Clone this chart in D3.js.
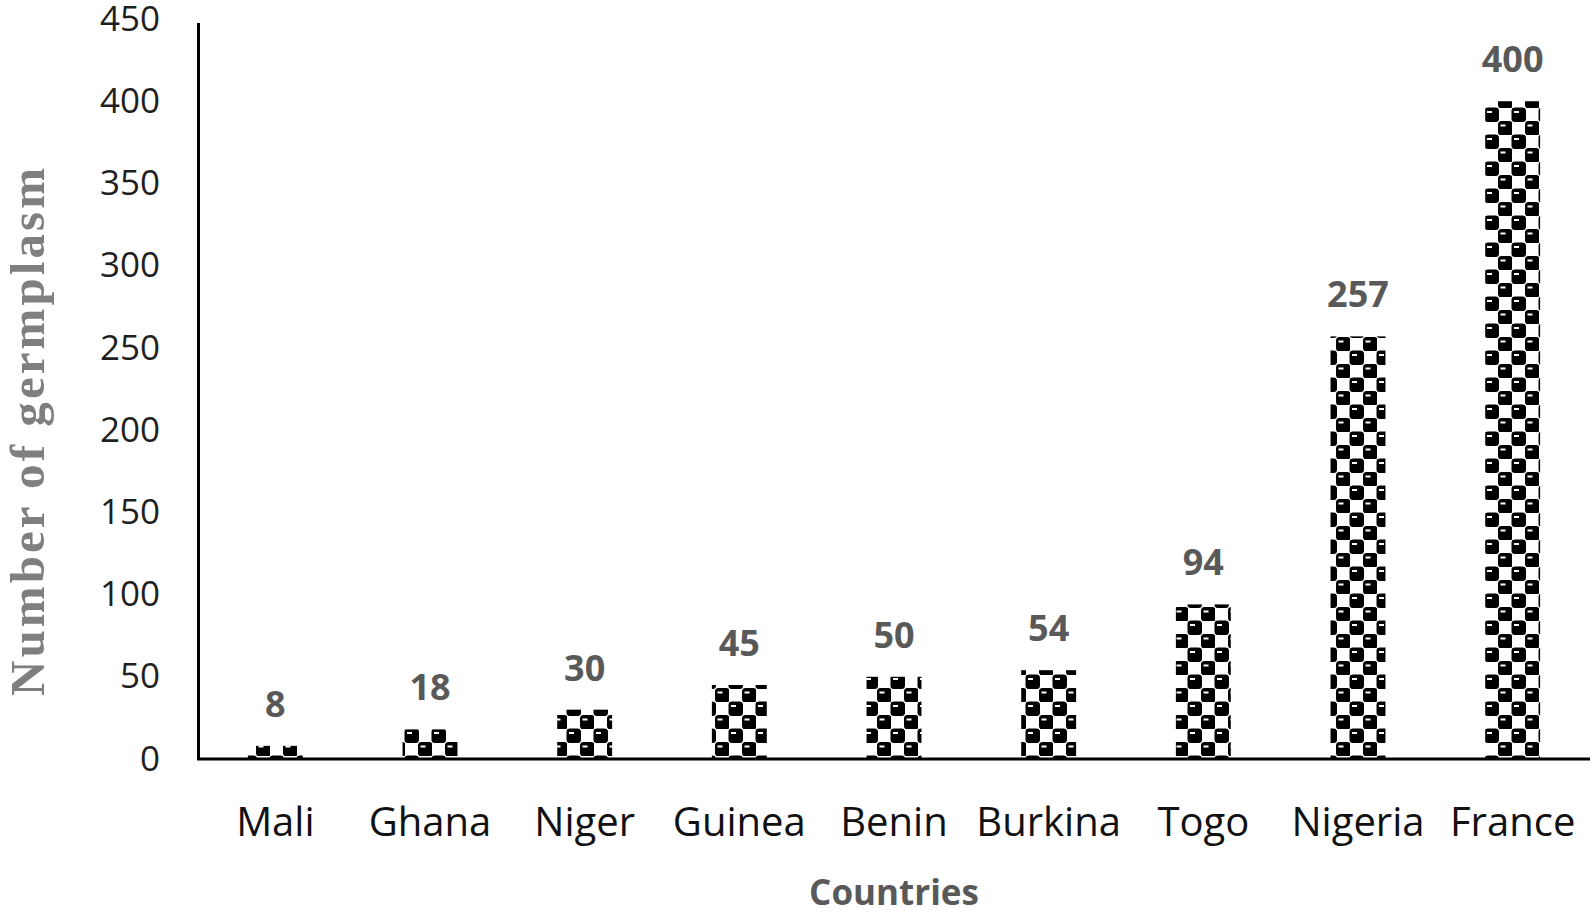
<!DOCTYPE html>
<html>
<head>
<meta charset="utf-8">
<script src="https://cdn.jsdelivr.net/npm/d3@7"></script>
<style>
    body { margin: 0; background: #ffffff; }
    svg { display: block; }
    .tick-label { font-family: "Open Sans", sans-serif; font-size: 35px; fill: #1f1f1f; }
    .country-label { font-family: "Open Sans", sans-serif; font-size: 40px; fill: #111111; }
    .value-label { font-family: "Open Sans", sans-serif; font-size: 36px; font-weight: bold; fill: #595959; }
    .x-title { font-family: "Open Sans", sans-serif; font-size: 35px; font-weight: bold; fill: #595959; }
    .y-title { font-family: "Liberation Serif", "Times New Roman", serif; font-size: 49px; font-weight: bold; fill: #7f7f7f; }
</style>
</head>
<body>
<svg></svg>
<script>
// Data
let countries = ['Mali', 'Ghana', 'Niger', 'Guinea', 'Benin', 'Burkina', 'Togo', 'Nigeria', 'France']
let germplasm = [8, 18, 30, 45, 50, 54, 94, 257, 400]
let yTicks = [0, 50, 100, 150, 200, 250, 300, 350, 400, 450]

let dataset = countries.map((c, i) => ({ country: c, value: germplasm[i] }))

// Graph Dimensions
let width = 1596
let height = 917
let plot = { left: 198, right: 1590, top: 19, bottom: 759 }

// Scale
let scale = {
    x: d3.scaleBand().domain(countries).range([plot.left, plot.right]).paddingInner(0.645).paddingOuter(0.3225),
    y: d3.scaleLinear().domain([0, 450]).range([plot.bottom, plot.top])
}

// SVG
let svg = d3.select('svg')
    .attr('width', width)
    .attr('height', height)

// Sphere pattern fill
let cell = 13.5
let pattern = svg.append('defs')
    .append('pattern')
    .attr('id', 'sphere')
    .attr('patternUnits', 'userSpaceOnUse')
    .attr('width', cell * 2)
    .attr('height', cell * 2)

pattern.append('rect')
    .attr('width', cell * 2)
    .attr('height', cell * 2)
    .attr('fill', '#ffffff')

let spots = [[0, 0], [cell, cell], [cell * 2, 0], [0, cell * 2], [cell * 2, cell * 2]]
for(let i = 0; i < spots.length; i++) {
    pattern.append('rect')
        .attr('x', spots[i][0] - 0.5)
        .attr('y', spots[i][1] - 0.5)
        .attr('width', cell + 1)
        .attr('height', cell + 1)
        .attr('rx', 3.5)
        .attr('fill', '#000000')
    pattern.append('rect')
        .attr('x', spots[i][0] + 2)
        .attr('y', spots[i][1] + 3)
        .attr('width', 5)
        .attr('height', 2)
        .attr('fill', '#ffffff')
}

// Bars
svg.selectAll('.bar')
    .data(dataset)
    .enter()
    .append('rect')
    .attr('class', 'bar')
    .attr('x', d => scale.x(d.country))
    .attr('y', d => scale.y(d.value))
    .attr('width', scale.x.bandwidth())
    .attr('height', d => scale.y(0) - scale.y(d.value))
    .attr('fill', 'url(#sphere)')

// Y axis
let yAxis = svg.append('g')
    .attr('transform', `translate(${plot.left},0)`)
    .call(d3.axisLeft(scale.y).tickValues(yTicks).tickSize(0).tickPadding(38))
yAxis.select('.domain')
    .attr('stroke', '#000000')
    .attr('stroke-width', 3)
    .attr('d', `M0.5,${plot.top + 4}V${plot.bottom}`)
yAxis.selectAll('text')
    .attr('class', 'tick-label')
    .attr('font-family', null)
    .attr('font-size', null)
    .attr('fill', null)

// X axis
let xAxis = svg.append('g')
    .attr('transform', `translate(0,${plot.bottom})`)
    .call(d3.axisBottom(scale.x).tickSize(0).tickPadding(49))
xAxis.select('.domain')
    .attr('stroke', '#000000')
    .attr('stroke-width', 3)
    .attr('d', `M${plot.left - 1},0H${plot.right}`)
xAxis.selectAll('text')
    .attr('class', 'country-label')
    .attr('font-family', null)
    .attr('font-size', null)
    .attr('fill', null)

// Value labels
svg.selectAll('.value-label')
    .data(dataset)
    .enter()
    .append('text')
    .attr('class', 'value-label')
    .attr('x', d => scale.x(d.country) + scale.x.bandwidth() / 2)
    .attr('y', d => scale.y(d.value) - 29)
    .attr('text-anchor', 'middle')
    .text(d => d.value)

// X label
svg.append('text')
    .attr('class', 'x-title')
    .attr('x', (plot.left + plot.right) / 2)
    .attr('y', 905)
    .attr('text-anchor', 'middle')
    .text('Countries')

// Y label
svg.append('text')
    .attr('class', 'y-title')
    .attr('transform', `translate(44,432) rotate(-90)`)
    .attr('text-anchor', 'middle')
    .attr('textLength', 528)
    .attr('lengthAdjust', 'spacing')
    .text('Number of germplasm')
</script>
</body>
</html>
